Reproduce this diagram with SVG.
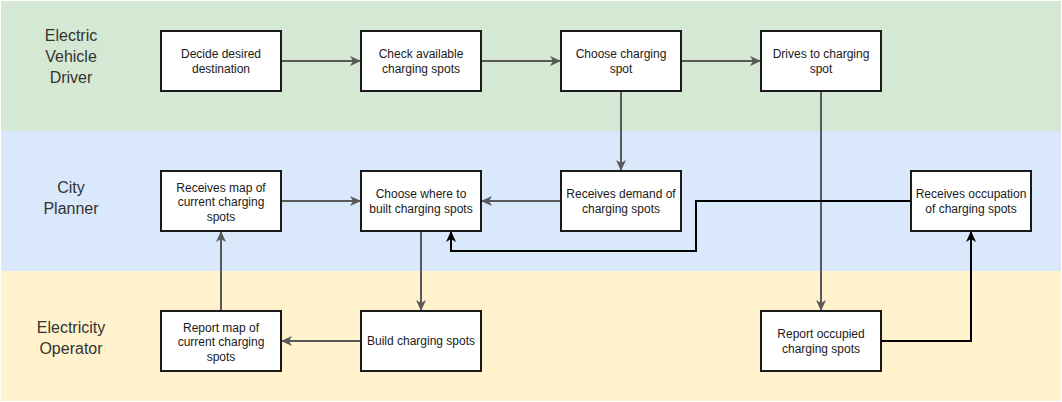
<svg xmlns="http://www.w3.org/2000/svg" width="1062" height="402" viewBox="0 0 1062 402">
<defs>
<style>
.lane-label{font-family:"Liberation Sans",Arial,sans-serif;font-size:16px;fill:#333;text-anchor:middle}
.box{fill:#fff;stroke:#1a1a1a;stroke-width:2}
.t{font-family:"Liberation Sans",Arial,sans-serif;font-size:12px;fill:#1a1a1a;text-anchor:middle}
.g{fill:none;stroke:#595959;stroke-width:2}
.k{fill:none;stroke:#000;stroke-width:2}
</style>
<marker id="ag" markerWidth="12" markerHeight="10" refX="10" refY="5" orient="auto" markerUnits="userSpaceOnUse">
<path d="M0,0 L11,5 L0,10 L3,5 Z" fill="#595959"/>
</marker>
<marker id="ak" markerWidth="12" markerHeight="10" refX="10" refY="5" orient="auto" markerUnits="userSpaceOnUse">
<path d="M0,0 L11,5 L0,10 L3,5 Z" fill="#000"/>
</marker>
</defs>
<g id="lanes">
<rect x="1" y="1" width="1060" height="130" fill="#d5e8d4"/>
<rect x="1" y="131" width="1060" height="140" fill="#dae8fc"/>
<rect x="1" y="271" width="1060" height="130" fill="#fff2cc"/>
<text class="lane-label" x="71" y="41">Electric</text>
<text class="lane-label" x="71" y="62">Vehicle</text>
<text class="lane-label" x="71" y="83">Driver</text>
<text class="lane-label" x="71" y="193">City</text>
<text class="lane-label" x="71" y="214">Planner</text>
<text class="lane-label" x="71" y="333">Electricity</text>
<text class="lane-label" x="71" y="354">Operator</text>
</g>
<g id="connectors">
<path class="g" d="M281,61 H360" marker-end="url(#ag)"/>
<path class="g" d="M481,61 H560" marker-end="url(#ag)"/>
<path class="g" d="M681,61 H760" marker-end="url(#ag)"/>
<path class="g" d="M621,91 V170" marker-end="url(#ag)"/>
<path class="g" d="M821,91 V310" marker-end="url(#ag)"/>
<path class="g" d="M561,201 H482" marker-end="url(#ag)"/>
<path class="g" d="M281,201 H360" marker-end="url(#ag)"/>
<path class="g" d="M221,311 V232" marker-end="url(#ag)"/>
<path class="g" d="M421,231 V310" marker-end="url(#ag)"/>
<path class="g" d="M361,341 H282" marker-end="url(#ag)"/>
<path class="k" d="M881,341 H971 V232" marker-end="url(#ak)"/>
<path class="k" d="M911,201 H696 V251 H451 V232" marker-end="url(#ak)"/>
</g>
<g id="n1"><rect class="box" x="161" y="31" width="120" height="60"/><text class="t" x="221" y="58">Decide desired</text><text class="t" x="221" y="72.5">destination</text></g>
<g id="n2"><rect class="box" x="361" y="31" width="120" height="60"/><text class="t" x="421" y="58">Check available</text><text class="t" x="421" y="72.5">charging spots</text></g>
<g id="n3"><rect class="box" x="561" y="31" width="120" height="60"/><text class="t" x="621" y="58">Choose charging</text><text class="t" x="621" y="72.5">spot</text></g>
<g id="n4"><rect class="box" x="761" y="31" width="120" height="60"/><text class="t" x="821" y="58">Drives to charging</text><text class="t" x="821" y="72.5">spot</text></g>
<g id="n5"><rect class="box" x="161" y="171" width="120" height="60"/><text class="t" x="221" y="191.5">Receives map of</text><text class="t" x="221" y="206">current charging</text><text class="t" x="221" y="220.5">spots</text></g>
<g id="n6"><rect class="box" x="361" y="171" width="120" height="60"/><text class="t" x="421" y="198">Choose where to</text><text class="t" x="421" y="212.5">built charging spots</text></g>
<g id="n7"><rect class="box" x="561" y="171" width="120" height="60"/><text class="t" x="621" y="198">Receives demand of</text><text class="t" x="621" y="212.5">charging spots</text></g>
<g id="n8"><rect class="box" x="911" y="171" width="120" height="60"/><text class="t" x="971" y="198">Receives occupation</text><text class="t" x="971" y="212.5">of charging spots</text></g>
<g id="n9"><rect class="box" x="161" y="311" width="120" height="60"/><text class="t" x="221" y="331.5">Report map of</text><text class="t" x="221" y="346">current charging</text><text class="t" x="221" y="360.5">spots</text></g>
<g id="n10"><rect class="box" x="361" y="311" width="120" height="60"/><text class="t" x="421" y="345">Build charging spots</text></g>
<g id="n11"><rect class="box" x="761" y="311" width="120" height="60"/><text class="t" x="821" y="338">Report occupied</text><text class="t" x="821" y="352.5">charging spots</text></g>
</svg>
